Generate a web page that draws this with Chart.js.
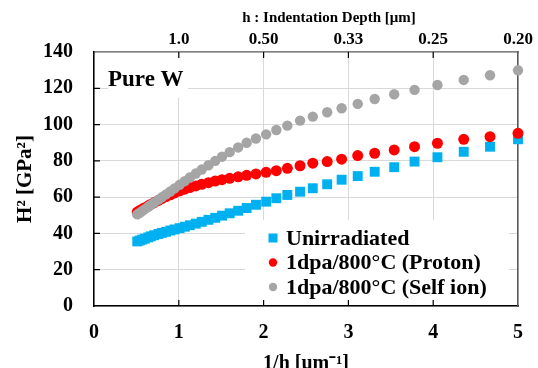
<!DOCTYPE html>
<html>
<head>
<meta charset="utf-8">
<script src="https://cdn.jsdelivr.net/npm/chart.js@4"></script>
<style>
  html, body { margin: 0; padding: 0; background: #fff; }
  #wrap { width: 538px; height: 368px; }
</style>
</head>
<body>
<div id="wrap"><canvas id="myChart" width="538" height="368"></canvas></div>
<script>
// 1/h [um-1], same positions for all three series
var invDepth = [0.51, 0.54, 0.57, 0.60, 0.64, 0.67, 0.71, 0.76, 0.80, 0.85,
  0.90, 0.95, 1.01, 1.07, 1.13, 1.20, 1.27, 1.35, 1.43, 1.51,
  1.60, 1.70, 1.80, 1.91, 2.03, 2.15, 2.28, 2.43, 2.58, 2.75,
  2.92, 3.11, 3.31, 3.54, 3.78, 4.05, 4.36, 4.67, 5.00];

var unirradiated = [35.6, 36.1, 36.6, 37.1, 37.8, 38.4, 39.0, 39.7, 40.3, 40.9,
  41.6, 42.2, 42.9, 43.7, 44.5, 45.4, 46.4, 47.5, 48.6, 49.8,
  51.1, 52.5, 54.0, 55.8, 57.5, 59.4, 61.2, 63.0, 64.9, 67.1,
  69.6, 71.6, 74.0, 76.5, 79.6, 82.0, 85.0, 87.8, 91.9];

var proton = [51.8, 52.6, 53.4, 54.2, 55.2, 56.0, 57.0, 58.2, 59.2, 60.3,
  61.3, 62.3, 63.4, 64.4, 65.3, 66.2, 67.1, 68.0, 68.9, 69.6,
  70.4, 71.2, 72.0, 72.8, 73.7, 74.6, 75.9, 77.3, 78.7, 79.6,
  80.9, 82.9, 84.2, 86.0, 87.8, 89.7, 91.9, 93.3, 95.2];

var selfIon = [50.5, 51.4, 52.4, 53.4, 54.7, 55.7, 57.0, 58.6, 59.9, 61.5,
  63.1, 64.8, 66.8, 68.8, 70.8, 73.0, 75.2, 77.6, 80.0, 82.3,
  84.8, 87.4, 90.0, 92.3, 94.6, 97.0, 99.4, 102.2, 104.4, 106.8,
  109.0, 111.4, 114.1, 116.7, 119.1, 121.8, 124.6, 127.2, 129.9];

var seriesNames = ['Unirradiated', '1dpa/800\u00B0C (Proton)', '1dpa/800\u00B0C (Self ion)'];
// top axis labels (h at 1/h = 1..5)
var depthLabels = ['1.0', '0.50', '0.33', '0.25', '0.20'];

var SERIF = '"Liberation Serif", "Times New Roman", serif';

function toPoints(ys) {
  var pts = [];
  for (var i = 0; i < ys.length; i++) {
    pts.push({x: invDepth[i], y: ys[i]});
  }
  return pts;
}

// white boxes, inner ticks, "Pure W" and the legend inside the plot
var decor = {
  id: 'decor',
  beforeDatasetsDraw: function (chart) {
    var ctx = chart.ctx, a = chart.chartArea;
    var sx = chart.scales.x, sx2 = chart.scales.x2, sy = chart.scales.y;
    ctx.save();
    ctx.fillStyle = '#fff';
    ctx.fillRect(a.left + 14, a.top + 1, 80, 45);
    ctx.fillRect(a.left + 151, a.bottom - 86, a.right - 9 - (a.left + 151), 80);

    ctx.strokeStyle = '#000';
    ctx.lineWidth = 1.2;
    ctx.beginPath();
    sx.ticks.forEach(function (t) {
      if (t.value <= 0 || t.value >= 5) return;
      var px = sx.getPixelForValue(t.value);
      ctx.moveTo(px, a.bottom); ctx.lineTo(px, a.bottom - 6);
    });
    sx2.ticks.forEach(function (t) {
      if (t.value <= 0 || t.value >= 5) return;
      var px = sx2.getPixelForValue(t.value);
      ctx.moveTo(px, a.top); ctx.lineTo(px, a.top + 6);
    });
    sy.ticks.forEach(function (t) {
      if (t.value <= 0 || t.value >= 140) return;
      var py = sy.getPixelForValue(t.value);
      ctx.moveTo(a.left, py); ctx.lineTo(a.left + 6, py);
    });
    ctx.stroke();

    ctx.fillStyle = '#000';
    ctx.textBaseline = 'middle';
    ctx.textAlign = 'left';
    ctx.font = 'bold 23px ' + SERIF;
    ctx.fillText('Pure W', a.left + 14, a.top + 28);

    // legend
    ctx.font = 'bold 22px ' + SERIF;
    chart.data.datasets.forEach(function (ds, i) {
      var ry = a.bottom - 68 + i * 24.5;
      var mx = a.left + 179;
      ctx.fillStyle = ds.backgroundColor;
      if (ds.pointStyle === 'rect') {
        ctx.fillRect(mx - 4.5, ry - 4.5, 9, 9);
      } else {
        ctx.beginPath();
        ctx.arc(mx, ry, 4.2, 0, Math.PI * 2);
        ctx.fill();
      }
      ctx.fillStyle = '#000';
      ctx.fillText(ds.label, a.left + 192, ry + 1);
    });
    ctx.restore();
  },
  afterDraw: function (chart) {
    var ctx = chart.ctx, a = chart.chartArea;
    ctx.save();
    ctx.fillStyle = '#000';
    ctx.textAlign = 'center';
    ctx.textBaseline = 'middle';
    ctx.font = 'bold 15px ' + SERIF;
    ctx.fillText('h : Indentation Depth [\u03BCm]', a.left + 235, 18);
    ctx.restore();
  }
};

var myChart = new Chart(document.getElementById('myChart'), {
  type: 'scatter',
  data: {
    datasets: [{
      label: seriesNames[0],
      data: toPoints(unirradiated),
      backgroundColor: '#00B0F0',
      borderColor: '#00B0F0',
      borderWidth: 0,
      pointStyle: 'rect',
      pointRadius: 7,
      order: 3,
      clip: false
    }, {
      label: seriesNames[1],
      data: toPoints(proton),
      backgroundColor: '#FF0000',
      borderColor: '#FF0000',
      borderWidth: 0,
      pointStyle: 'circle',
      pointRadius: 5.5,
      order: 2,
      clip: false
    }, {
      label: seriesNames[2],
      data: toPoints(selfIon),
      backgroundColor: '#A5A5A5',
      borderColor: '#A5A5A5',
      borderWidth: 0,
      pointStyle: 'circle',
      pointRadius: 5.2,
      order: 1,
      clip: false
    }]
  },
  options: {
    responsive: false,
    animation: false,
    events: [],
    layout: { padding: 0 },
    plugins: {
      legend: { display: false },
      tooltip: { enabled: false }
    },
    scales: {
      x: {
        type: 'linear',
        position: 'bottom',
        min: 0, max: 5,
        afterFit: function (s) { s.height = 62; },
        ticks: {
          stepSize: 1,
          padding: 15,
          color: '#000',
          font: { family: SERIF, size: 20, weight: 'bold' }
        },
        grid: { color: '#D9D9D9', lineWidth: 1, drawTicks: false },
        border: { color: '#000', width: 1.5 },
        title: {
          display: true,
          text: '1/h [um\u207B\u00B9]',
          color: '#000',
          padding: { top: 0, bottom: -8 },
          font: { family: SERIF, size: 20, weight: 'bold' }
        }
      },
      x2: {
        type: 'linear',
        position: 'top',
        min: 0, max: 5,
        afterFit: function (s) { s.height = 52; },
        ticks: {
          stepSize: 1,
          padding: 2,
          color: '#000',
          font: { family: SERIF, size: 17, weight: 'bold' },
          callback: function (v) { return v >= 1 ? depthLabels[v - 1] : ''; }
        },
        grid: { display: false, drawTicks: false },
        border: { color: '#808080', width: 1.5 }
      },
      y: {
        type: 'linear',
        position: 'left',
        min: 0, max: 140,
        afterFit: function (s) { s.width = 94; },
        ticks: {
          stepSize: 20,
          padding: 21,
          color: '#000',
          font: { family: SERIF, size: 20, weight: 'bold' }
        },
        grid: { color: '#D9D9D9', lineWidth: 1, drawTicks: false },
        border: { color: '#000', width: 1.5 },
        title: {
          display: true,
          text: 'H\u00B2 [GPa\u00B2]',
          color: '#000',
          padding: { top: 13, bottom: 0 },
          font: { family: SERIF, size: 21, weight: 'bold' }
        }
      },
      y2: {
        type: 'linear',
        position: 'right',
        min: 0, max: 140,
        afterFit: function (s) { s.width = 18; },
        ticks: { display: false },
        grid: { display: false, drawTicks: false },
        border: { color: '#595959', width: 1.5 }
      }
    }
  },
  plugins: [decor]
});
</script>
</body>
</html>
